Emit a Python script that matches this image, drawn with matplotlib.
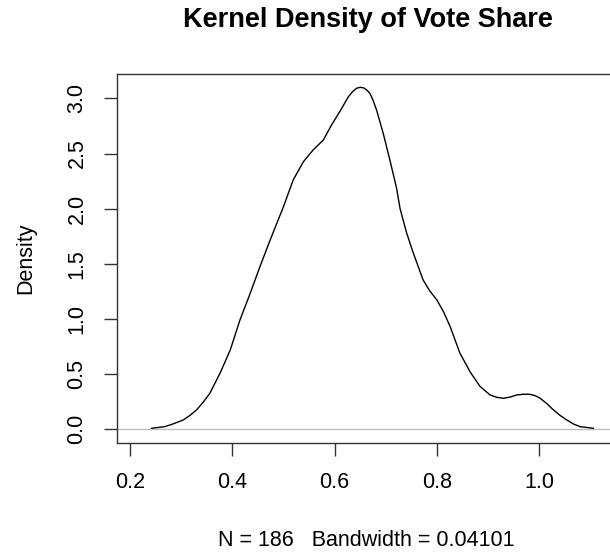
import matplotlib
matplotlib.use('Agg')
import matplotlib.pyplot as plt

# density estimate
vote_share = [0.242, 0.268, 0.282, 0.304, 0.317, 0.330, 0.343, 0.356, 0.376, 0.396,
              0.415, 0.435, 0.454, 0.474, 0.500, 0.519, 0.539, 0.558, 0.578, 0.594,
              0.610, 0.627, 0.635, 0.643, 0.650, 0.657, 0.663, 0.669, 0.675, 0.682,
              0.695, 0.708, 0.721, 0.728, 0.741, 0.754, 0.773, 0.786, 0.800, 0.813,
              0.826, 0.845, 0.865, 0.884, 0.904, 0.917, 0.930, 0.943, 0.956, 0.969,
              0.982, 0.992, 1.002, 1.015, 1.028, 1.041, 1.054, 1.067, 1.080, 1.106]
density = [0.009, 0.024, 0.045, 0.084, 0.125, 0.175, 0.245, 0.326, 0.508, 0.719,
           0.991, 1.233, 1.474, 1.716, 2.018, 2.260, 2.426, 2.532, 2.623, 2.759,
           2.879, 3.015, 3.060, 3.092, 3.100, 3.095, 3.075, 3.046, 2.985, 2.895,
           2.684, 2.442, 2.190, 2.000, 1.777, 1.596, 1.354, 1.255, 1.172, 1.065,
           0.930, 0.690, 0.520, 0.390, 0.311, 0.290, 0.281, 0.292, 0.311, 0.318,
           0.317, 0.305, 0.281, 0.232, 0.175, 0.125, 0.084, 0.048, 0.024, 0.009]
x_ticks = [0.2, 0.4, 0.6, 0.8, 1.0]
y_ticks = [0.0, 0.5, 1.0, 1.5, 2.0, 2.5, 3.0]

plt.rcParams['font.family'] = ['Liberation Sans', 'DejaVu Sans']

W, H = 610, 553
fig = plt.figure(figsize=(W / 100, H / 100), dpi=100)
left, right, top, bottom = 116.7, 610, 74, 443.3
ax = fig.add_axes([left / W, 1 - bottom / H, (right - left) / W, (bottom - top) / H])

ax.axhline(0, color='#bebebe', lw=1, zorder=1)
ax.plot(vote_share, density, color='black', lw=1, zorder=2)

ax.set_xlim(0.174, 1.1384)
ax.set_ylim(-0.127, 3.221)
ax.set_xticks(x_ticks)
ax.set_xticklabels(['{:.1f}'.format(v) for v in x_ticks])
ax.set_yticks(y_ticks)
ax.set_yticklabels(['{:.1f}'.format(v) for v in y_ticks], rotation=90, va='center')

ax.spines['right'].set_visible(False)
for s in ['left', 'top', 'bottom']:
    ax.spines[s].set_color('#333333')
    ax.spines[s].set_linewidth(1)
ax.tick_params(direction='out', length=9.5, width=1, color='#333333',
               labelsize=15.5, labelcolor='black', pad=11.5)

ax.set_ylabel('Density', fontsize=15.5, labelpad=22)
fig.text(368 / W, 1 - 20 / H, 'Kernel Density of Vote Share', fontsize=19.5,
         fontweight='bold', ha='center', va='center')
fig.text(366 / W, 1 - 540 / H, 'N = 186   Bandwidth = 0.04101', fontsize=15.5,
         ha='center', va='center')

fig.savefig('out.png', dpi=100)
